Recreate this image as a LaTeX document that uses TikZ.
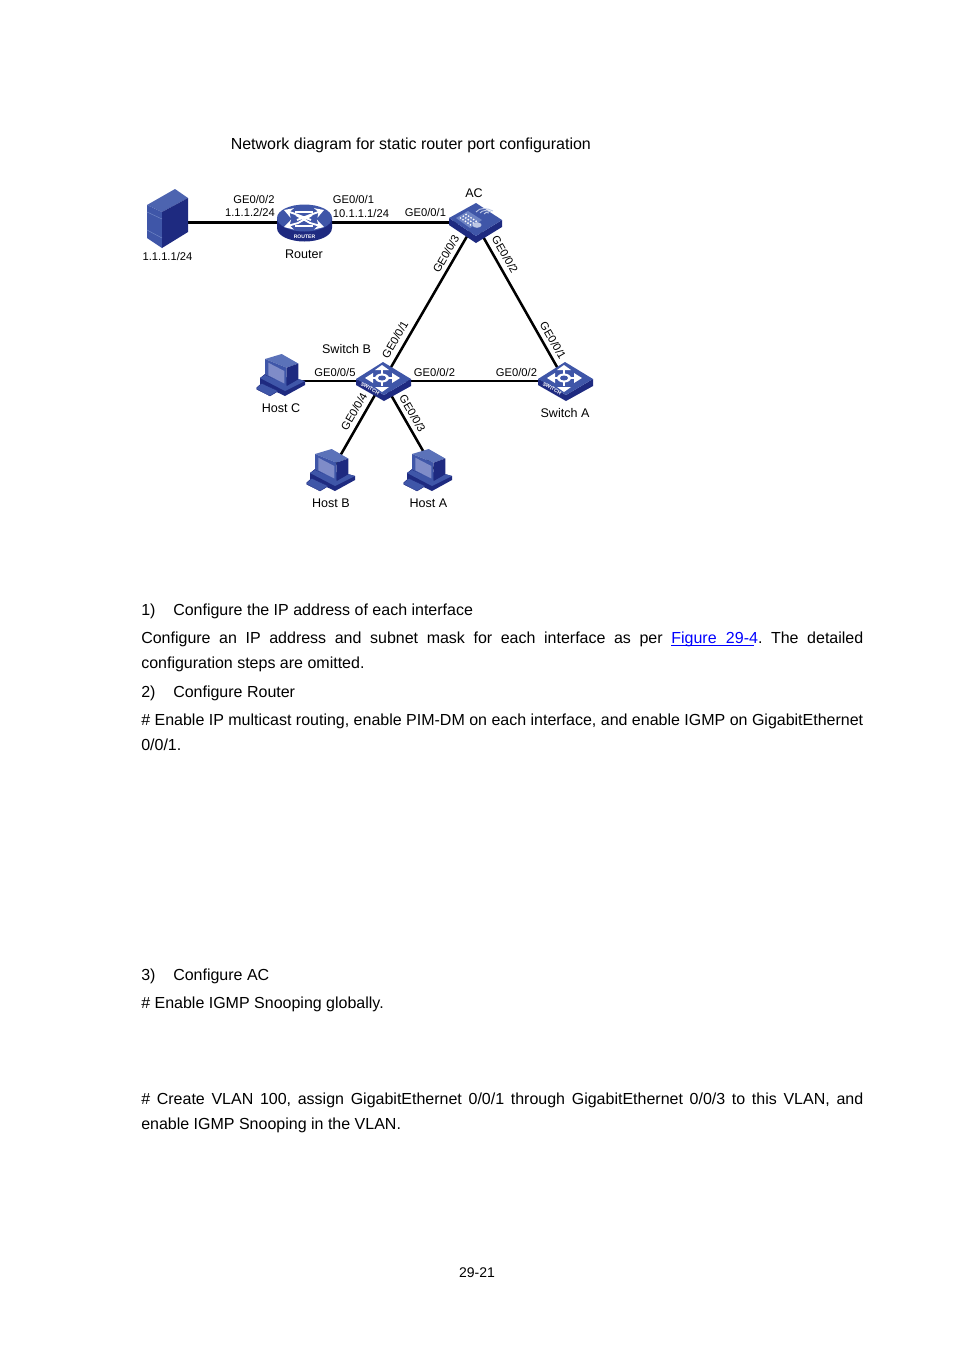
\documentclass[tikz,border=0pt]{standalone}
\usepackage{fontspec}
\setmainfont{Liberation Sans}
\usetikzlibrary{arrows.meta,positioning,calc}
\definecolor{navy}{HTML}{1E2A80}
\definecolor{midblue}{HTML}{3F56A8}
\definecolor{liteblue}{HTML}{6E84C4}
\definecolor{screenblue}{HTML}{7F8CC8}

\tikzset{
  >={Stealth[length=6.5pt,width=7.5pt]},
  switchicon/.pic={
    \fill[navy] (-27,-1) -- (1,15) -- (28,-1) -- (28,6) -- (1,21) -- (-27,5) -- cycle;
    \fill[midblue] (-27,-1) -- (0,-18) -- (28,-1) -- (1,15) -- cycle;
    \draw[white, line width=1.5pt] (-12,-2) -- (12,-2) (-1,-10) -- (-1,6);
    \fill[white] (-18,-2) -- (-10,-7) -- (-10,3) -- cycle;
    \fill[white] (17,-2) -- (9,-7) -- (9,3) -- cycle;
    \fill[white] (-1,-15) -- (-8,-10) -- (6,-10) -- cycle;
    \fill[white] (-1,12) -- (-8,7) -- (6,7) -- cycle;
    \fill[white] (-1,-2) ellipse [x radius=7, y radius=4.5];
    \fill[midblue] (-1,-2) ellipse [x radius=4, y radius=2.5];
    \node[tinytext, rotate=-28] (-swt) at (-13,8.5) {SWITCH};
  },
  acicon/.pic={
    \fill[navy] (-26,-2) -- (1,16) -- (27,0) -- (27,7) -- (1,23) -- (-26,5) -- cycle;
    \fill[midblue] (-26,-2) -- (1,-17) -- (27,0) -- (1,16) -- cycle;
    \fill[liteblue] (-19,-2) -- (-7,-9) -- (7,0) -- (-5,8) -- cycle;
    \foreach \a in {0,1,2,3,4}
      \foreach \b in {0,1,2}
        \fill[white] ($(-14.5,-2)+(\a*2.5,\a*1.7)+(\b*2.8,-\b*1.8)$) circle [radius=0.95];
    \fill[white!55!liteblue] (2,5) ellipse [x radius=4.5, y radius=2.8];
    \draw[white!55!liteblue, line width=0.7pt] (9,-6) .. controls (10,-8) and (12,-8) .. (14,-7);
    \draw[white!55!liteblue, line width=0.7pt] (5,-7) .. controls (7,-10) and (12,-10) .. (16,-8);
    \draw[white!55!liteblue, line width=0.7pt] (1,-8) .. controls (5,-13) and (12,-12) .. (18,-9);
  },
  routericon/.pic={
    \fill[navy] (-27,-4) -- (-27,6) .. controls (-27,14) and (-14,19.5) .. (0.5,19.5) .. controls (15,19.5) and (28,14) .. (28,6) -- (28,-4) -- cycle;
    \fill[midblue] (0.5,-4) ellipse [x radius=27.5, y radius=13.5];
    \draw[white, line width=1.4pt, ->] (7,-2) -- (-6,-7) -- (-20,-12);
    \draw[white, line width=1.4pt, ->] (-7,-2) -- (6,-7) -- (20,-12);
    \draw[white, line width=1.4pt, ->] (8,-7) -- (-6,1) -- (-20,5);
    \draw[white, line width=1.4pt, ->] (-8,-7) -- (6,1) -- (20,5);
    \draw[white, line width=1.4pt] (-9,-10) -- (9,-10) (-9,4) -- (9,4);
    \node[tinytext] (-rtr) at (0.5,15) {ROUTER};
  },
  servericon/.pic={
    \fill[midblue!70!liteblue] (-21,-13) -- (7,-29) -- (20,-20) -- (-6,-6) -- cycle;
    \fill[midblue] (-21,-13) -- (-6,-6) -- (-6,30) -- (-21,20) -- cycle;
    \fill[navy] (-6,-6) -- (20,-20) -- (20,14) -- (-6,30) -- cycle;
    \draw[liteblue, line width=0.4pt] (-21,-6) -- (-6,1) (-21,12) -- (-6,20);
  },
  hosticon/.pic={
    \fill[navy] (-22,2) -- (-17,-2) -- (16,3) -- (23,5) -- (23,9) -- (3,20) -- (-22,8) -- cycle;
    \fill[midblue] (-22,2) -- (-17,-1) -- (5,9) -- (16,3) -- (23,5) -- (3,15) -- cycle;
    \fill[midblue, draw=navy, line width=0.3pt] (-25.3,11.7) -- (-20.3,7.3) -- (-3.7,15) -- (-12,20) -- (-25.3,13.3) -- cycle;
    \fill[liteblue!60!midblue] (-17,-17) -- (-0.3,-22) -- (16.3,-12.5) -- (4.7,-8.3) -- cycle;
    \fill[midblue] (-17,-17) -- (4.7,-8.3) -- (4.7,10) -- (-17,-1.7) -- cycle;
    \fill[navy] (4.7,-8.3) -- (16.3,-12.5) -- (16.3,3.3) -- (4.7,10) -- cycle;
    \fill[screenblue] (-13.7,-13.3) -- (2.3,-5) -- (2.3,7.5) -- (-13.7,-0.7) -- cycle;
  },
  tinytext/.style={font=\fontsize{3.8}{4}\selectfont\bfseries, text=white, inner sep=0pt},
  device/.style={circle, inner sep=0pt, minimum size=1pt},
  link/.style={draw, line width=1.9pt},
  portlabel/.style={font=\fontsize{8.4}{10}\selectfont, inner sep=0pt},
  namelabel/.style={font=\fontsize{9.4}{11}\selectfont, inner sep=0pt},
  bodyline/.style={font=\fontsize{12}{18.75}\selectfont, inner sep=0pt, anchor=base west},
  bodypara/.style={font=\fontsize{12}{18.75}\selectfont, execute at begin node={\hyphenpenalty=10000\relax\frenchspacing}, inner sep=0pt, anchor=north west, text width=541.5pt, align=justify},
}
\newcommand{\numbered}[2]{\makebox[24pt][l]{#1}#2}
\newcommand{\linktext}[1]{\setbox0=\hbox{#1}\textcolor{blue}{\rlap{\rule[-1.7pt]{\wd0}{0.6pt}}#1}}

\begin{document}
\begin{tikzpicture}[x=0.75pt, y=-0.75pt]
\useasboundingbox (0,0) rectangle (954,1350);

% Title
\node[bodyline] (title) at (230.5,149) {Network diagram for static router port configuration};

% Devices
\node[device] (Server)  at (168,222.5) {};
\node[device] (Router)  at (304,222.5) {};
\node[device] (AC)      at (475,222.5) {};
\node[device] (SwitchB) at (383,381) {};
\node[device] (SwitchA) at (565,381) {};
\node[device] (HostC)   at (282,381) {};
\node[device] (HostB)   at (332,470) {};
\node[device] (HostA)   at (434,470) {};

% Links go under the icons
\draw[link] (Server) -- (Router);
\draw[link] (Router) -- (AC);
\draw[link] (AC) -- (SwitchB);
\draw[link] (AC) -- (SwitchA);
\draw[link] (SwitchB) -- (SwitchA);
\draw[link] (HostC) -- (SwitchB);
\draw[link] (SwitchB) -- (HostB);
\draw[link] (SwitchB) -- (HostA);

% Icons
\pic at (168,218) {servericon};
\pic at (304,222) {routericon};
\pic at (475,220) {acicon};
\pic at (383,380) {switchicon};
\pic at (565,380) {switchicon};
\pic at (282,376) {hosticon};
\pic at (332,471) {hosticon};
\pic at (429,471) {hosticon};

% Device names
\node[portlabel] (srvip) at (167.5,256) {1.1.1.1/24};
\node[namelabel] (rname) at (304,254) {Router};
\node[namelabel] (acname) at (474,193) {AC};
\node[namelabel] (sbname) at (346.5,349) {Switch B};
\node[namelabel] (saname) at (565,413) {Switch A};
\node[namelabel] (hcname) at (281,408) {Host C};
\node[namelabel] (hbname) at (331,503) {Host B};
\node[namelabel] (haname) at (428.5,503) {Host A};

% Port labels
\node[portlabel] (p1) at (254,199) {GE0/0/2};
\node[portlabel] (p2) at (250,212) {1.1.1.2/24};
\node[portlabel] (p3) at (353.5,199) {GE0/0/1};
\node[portlabel] (p4) at (361,213) {10.1.1.1/24};
\node[portlabel] (p5) at (425.5,212) {GE0/0/1};
\node[portlabel, rotate=60]  (p6)  at (446,254) {GE0/0/3};
\node[portlabel, rotate=-60] (p7)  at (505,254.5) {GE0/0/2};
\node[portlabel, rotate=60]  (p8)  at (395,339.5) {GE0/0/1};
\node[portlabel, rotate=-60] (p9)  at (553,340.5) {GE0/0/1};
\node[portlabel] (p10) at (335,372) {GE0/0/5};
\node[portlabel] (p11) at (434.5,372) {GE0/0/2};
\node[portlabel] (p12) at (516.5,372) {GE0/0/2};
\node[portlabel, rotate=60]  (p13) at (354,411.5) {GE0/0/4};
\node[portlabel, rotate=-60] (p14) at (412.5,413.5) {GE0/0/3};

% Page text
\node[bodyline] (s1) at (141,615) {\numbered{1)}{Configure the IP address of each interface}};
\node[bodypara] (t1) at (141,632) {Configure an IP address and subnet mask for each interface as per \linktext{Figure\hspace{0.5pt} 29-4}. The detailed configuration steps are omitted.};
\node[bodyline] (s2) at (141,697) {\numbered{2)}{Configure Router}};
\node[bodypara] (t2) at (141,714) {\# Enable IP multicast routing, enable PIM-DM on each interface, and enable IGMP on GigabitEthernet 0/0/1.};
\node[bodyline] (s3) at (141,980) {\numbered{3)}{Configure AC}};
\node[bodyline] (t3) at (141,1008) {\# Enable IGMP Snooping globally.};
\node[bodypara] (t4) at (141,1093) {\# Create VLAN 100, assign GigabitEthernet 0/0/1 through GigabitEthernet 0/0/3 to this VLAN, and enable IGMP Snooping in the VLAN.};
\node[portlabel, font=\fontsize{10.5}{12}\selectfont] (pageno) at (477,1272.5) {29-21};

\end{tikzpicture}
\end{document}
